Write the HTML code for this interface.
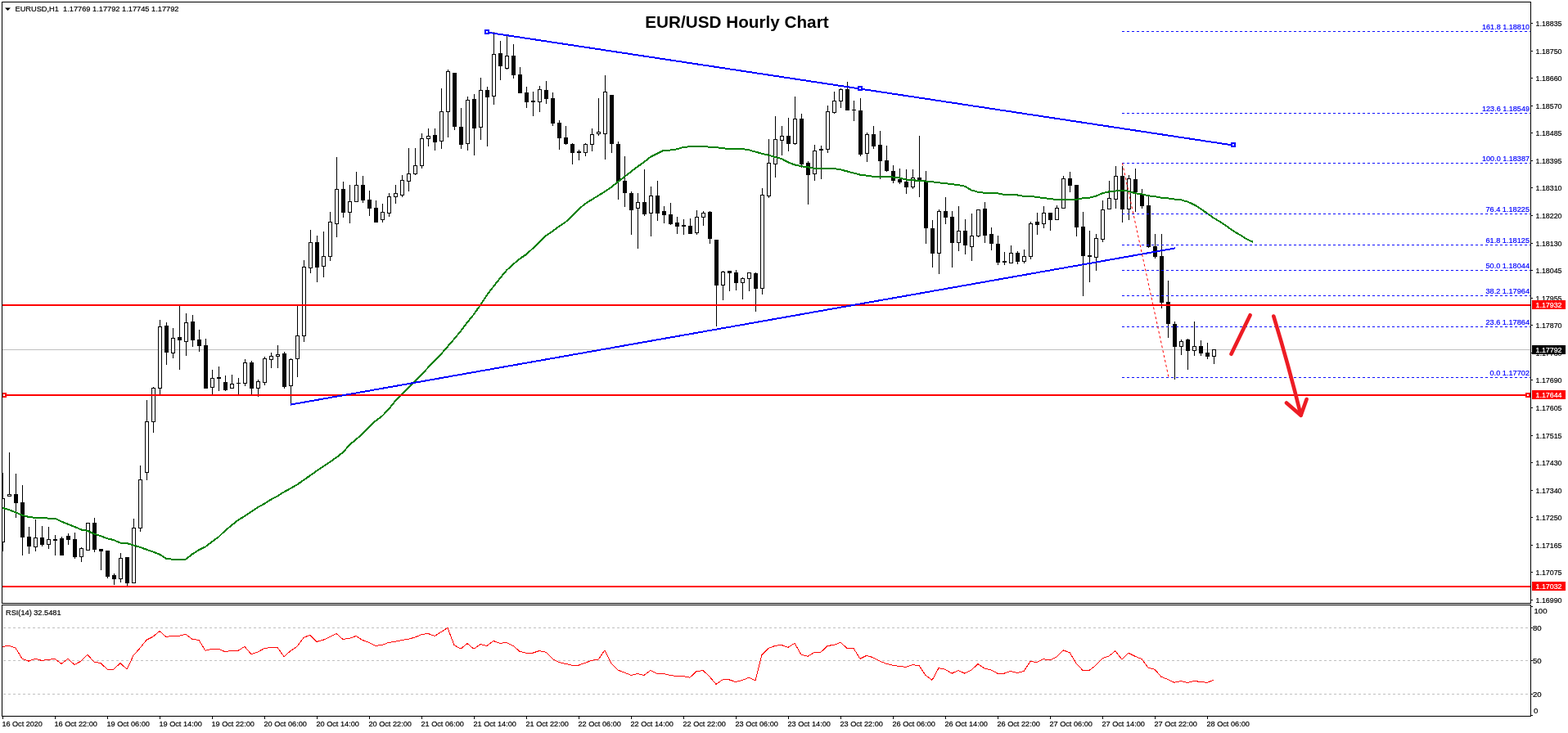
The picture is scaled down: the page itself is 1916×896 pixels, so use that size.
<!DOCTYPE html>
<html><head><meta charset="utf-8"><title>EUR/USD Hourly Chart</title>
<style>html,body{margin:0;padding:0;background:#fff;width:1916px;height:896px;overflow:hidden}</style>
</head><body>
<svg width="1916" height="896" viewBox="0 0 1916 896" style="display:block">
<defs><clipPath id="cm"><rect x="3" y="3" width="1867" height="734"/></clipPath><clipPath id="cr"><rect x="3" y="740" width="1867" height="135"/></clipPath></defs>
<style>text{stroke-width:0.2px}</style>
<rect width="1916" height="896" fill="#fff"/>
<g clip-path="url(#cm)" shape-rendering="crispEdges">
<rect x="3" y="427" width="1867" height="1" fill="#c0c0c0"/>
</g>
<g clip-path="url(#cm)" shape-rendering="crispEdges" fill="#000">
<rect x="3" y="578" width="1" height="96"/>
<rect x="1" y="609" width="5" height="54"/>
<rect x="2" y="610" width="3" height="52" fill="#fff"/>
<rect x="11" y="553" width="1" height="54"/>
<rect x="9" y="604" width="5" height="3"/>
<rect x="10" y="605" width="3" height="1" fill="#fff"/>
<rect x="19" y="579" width="1" height="54"/>
<rect x="17" y="604" width="5" height="11"/>
<rect x="27" y="593" width="1" height="86"/>
<rect x="25" y="614" width="5" height="43"/>
<rect x="35" y="644" width="1" height="33"/>
<rect x="33" y="656" width="5" height="12"/>
<rect x="43" y="635" width="1" height="39"/>
<rect x="41" y="657" width="5" height="12"/>
<rect x="42" y="658" width="3" height="10" fill="#fff"/>
<rect x="51" y="643" width="1" height="25"/>
<rect x="49" y="657" width="5" height="9"/>
<rect x="59" y="644" width="1" height="27"/>
<rect x="57" y="659" width="5" height="7"/>
<rect x="58" y="660" width="3" height="5" fill="#fff"/>
<rect x="67" y="654" width="1" height="25"/>
<rect x="65" y="659" width="5" height="2"/>
<rect x="75" y="656" width="1" height="23"/>
<rect x="73" y="658" width="5" height="21"/>
<rect x="83" y="652" width="1" height="14"/>
<rect x="81" y="655" width="5" height="5"/>
<rect x="91" y="651" width="1" height="32"/>
<rect x="89" y="659" width="5" height="22"/>
<rect x="99" y="669" width="1" height="18"/>
<rect x="97" y="670" width="5" height="11"/>
<rect x="98" y="671" width="3" height="9" fill="#fff"/>
<rect x="107" y="639" width="1" height="34"/>
<rect x="105" y="639" width="5" height="34"/>
<rect x="106" y="640" width="3" height="32" fill="#fff"/>
<rect x="115" y="633" width="1" height="42"/>
<rect x="113" y="639" width="5" height="33"/>
<rect x="123" y="671" width="1" height="26"/>
<rect x="121" y="671" width="5" height="3"/>
<rect x="131" y="673" width="1" height="34"/>
<rect x="129" y="673" width="5" height="32"/>
<rect x="139" y="701" width="1" height="14"/>
<rect x="137" y="703" width="5" height="5"/>
<rect x="147" y="676" width="1" height="36"/>
<rect x="145" y="682" width="5" height="26"/>
<rect x="146" y="683" width="3" height="24" fill="#fff"/>
<rect x="155" y="681" width="1" height="35"/>
<rect x="153" y="681" width="5" height="32"/>
<rect x="163" y="634" width="1" height="79"/>
<rect x="161" y="645" width="5" height="68"/>
<rect x="162" y="646" width="3" height="66" fill="#fff"/>
<rect x="171" y="569" width="1" height="81"/>
<rect x="169" y="586" width="5" height="60"/>
<rect x="170" y="587" width="3" height="58" fill="#fff"/>
<rect x="179" y="489" width="1" height="98"/>
<rect x="177" y="515" width="5" height="63"/>
<rect x="178" y="516" width="3" height="61" fill="#fff"/>
<rect x="187" y="473" width="1" height="56"/>
<rect x="185" y="474" width="5" height="42"/>
<rect x="186" y="475" width="3" height="40" fill="#fff"/>
<rect x="195" y="391" width="1" height="91"/>
<rect x="193" y="399" width="5" height="76"/>
<rect x="194" y="400" width="3" height="74" fill="#fff"/>
<rect x="203" y="394" width="1" height="52"/>
<rect x="201" y="398" width="5" height="33"/>
<rect x="211" y="401" width="1" height="37"/>
<rect x="209" y="413" width="5" height="19"/>
<rect x="210" y="414" width="3" height="17" fill="#fff"/>
<rect x="219" y="374" width="1" height="78"/>
<rect x="217" y="412" width="5" height="4"/>
<rect x="227" y="383" width="1" height="52"/>
<rect x="225" y="394" width="5" height="24"/>
<rect x="226" y="395" width="3" height="22" fill="#fff"/>
<rect x="235" y="385" width="1" height="39"/>
<rect x="233" y="393" width="5" height="23"/>
<rect x="243" y="403" width="1" height="27"/>
<rect x="241" y="415" width="5" height="8"/>
<rect x="251" y="414" width="1" height="61"/>
<rect x="249" y="422" width="5" height="53"/>
<rect x="259" y="452" width="1" height="30"/>
<rect x="257" y="462" width="5" height="12"/>
<rect x="258" y="463" width="3" height="10" fill="#fff"/>
<rect x="267" y="448" width="1" height="30"/>
<rect x="265" y="461" width="5" height="2"/>
<rect x="275" y="459" width="1" height="19"/>
<rect x="273" y="467" width="5" height="10"/>
<rect x="283" y="458" width="1" height="17"/>
<rect x="281" y="469" width="5" height="6"/>
<rect x="282" y="470" width="3" height="4" fill="#fff"/>
<rect x="291" y="462" width="1" height="20"/>
<rect x="289" y="468" width="5" height="1"/>
<rect x="299" y="439" width="1" height="33"/>
<rect x="297" y="443" width="5" height="26"/>
<rect x="298" y="444" width="3" height="24" fill="#fff"/>
<rect x="307" y="441" width="1" height="41"/>
<rect x="305" y="443" width="5" height="32"/>
<rect x="315" y="464" width="1" height="21"/>
<rect x="313" y="466" width="5" height="9"/>
<rect x="314" y="467" width="3" height="7" fill="#fff"/>
<rect x="323" y="436" width="1" height="35"/>
<rect x="321" y="438" width="5" height="30"/>
<rect x="322" y="439" width="3" height="28" fill="#fff"/>
<rect x="331" y="431" width="1" height="19"/>
<rect x="329" y="435" width="5" height="5"/>
<rect x="330" y="436" width="3" height="3" fill="#fff"/>
<rect x="339" y="422" width="1" height="28"/>
<rect x="337" y="433" width="5" height="3"/>
<rect x="338" y="434" width="3" height="1" fill="#fff"/>
<rect x="347" y="430" width="1" height="45"/>
<rect x="345" y="432" width="5" height="41"/>
<rect x="355" y="438" width="1" height="56"/>
<rect x="353" y="439" width="5" height="33"/>
<rect x="354" y="440" width="3" height="31" fill="#fff"/>
<rect x="363" y="373" width="1" height="88"/>
<rect x="361" y="410" width="5" height="29"/>
<rect x="362" y="411" width="3" height="27" fill="#fff"/>
<rect x="371" y="318" width="1" height="100"/>
<rect x="369" y="326" width="5" height="85"/>
<rect x="370" y="327" width="3" height="83" fill="#fff"/>
<rect x="379" y="281" width="1" height="53"/>
<rect x="377" y="296" width="5" height="32"/>
<rect x="378" y="297" width="3" height="30" fill="#fff"/>
<rect x="387" y="288" width="1" height="57"/>
<rect x="385" y="296" width="5" height="31"/>
<rect x="395" y="283" width="1" height="56"/>
<rect x="393" y="313" width="5" height="13"/>
<rect x="394" y="314" width="3" height="11" fill="#fff"/>
<rect x="403" y="259" width="1" height="60"/>
<rect x="401" y="271" width="5" height="43"/>
<rect x="402" y="272" width="3" height="41" fill="#fff"/>
<rect x="411" y="192" width="1" height="98"/>
<rect x="409" y="231" width="5" height="43"/>
<rect x="410" y="232" width="3" height="41" fill="#fff"/>
<rect x="419" y="222" width="1" height="44"/>
<rect x="417" y="231" width="5" height="29"/>
<rect x="427" y="226" width="1" height="47"/>
<rect x="425" y="246" width="5" height="14"/>
<rect x="426" y="247" width="3" height="12" fill="#fff"/>
<rect x="435" y="210" width="1" height="37"/>
<rect x="433" y="226" width="5" height="21"/>
<rect x="434" y="227" width="3" height="19" fill="#fff"/>
<rect x="443" y="215" width="1" height="33"/>
<rect x="441" y="226" width="5" height="19"/>
<rect x="451" y="233" width="1" height="31"/>
<rect x="449" y="244" width="5" height="11"/>
<rect x="459" y="245" width="1" height="27"/>
<rect x="457" y="254" width="5" height="18"/>
<rect x="467" y="249" width="1" height="23"/>
<rect x="465" y="259" width="5" height="10"/>
<rect x="466" y="260" width="3" height="8" fill="#fff"/>
<rect x="475" y="236" width="1" height="29"/>
<rect x="473" y="240" width="5" height="21"/>
<rect x="474" y="241" width="3" height="19" fill="#fff"/>
<rect x="483" y="226" width="1" height="23"/>
<rect x="481" y="236" width="5" height="5"/>
<rect x="482" y="237" width="3" height="3" fill="#fff"/>
<rect x="491" y="214" width="1" height="27"/>
<rect x="489" y="220" width="5" height="19"/>
<rect x="490" y="221" width="3" height="17" fill="#fff"/>
<rect x="499" y="181" width="1" height="53"/>
<rect x="497" y="212" width="5" height="10"/>
<rect x="498" y="213" width="3" height="8" fill="#fff"/>
<rect x="507" y="181" width="1" height="33"/>
<rect x="505" y="202" width="5" height="11"/>
<rect x="506" y="203" width="3" height="9" fill="#fff"/>
<rect x="515" y="163" width="1" height="43"/>
<rect x="513" y="169" width="5" height="34"/>
<rect x="514" y="170" width="3" height="32" fill="#fff"/>
<rect x="523" y="157" width="1" height="22"/>
<rect x="521" y="166" width="5" height="4"/>
<rect x="522" y="167" width="3" height="2" fill="#fff"/>
<rect x="531" y="157" width="1" height="27"/>
<rect x="529" y="165" width="5" height="9"/>
<rect x="539" y="108" width="1" height="74"/>
<rect x="537" y="136" width="5" height="37"/>
<rect x="538" y="137" width="3" height="35" fill="#fff"/>
<rect x="547" y="85" width="1" height="83"/>
<rect x="545" y="87" width="5" height="50"/>
<rect x="546" y="88" width="3" height="48" fill="#fff"/>
<rect x="555" y="89" width="1" height="70"/>
<rect x="553" y="89" width="5" height="66"/>
<rect x="563" y="132" width="1" height="50"/>
<rect x="561" y="155" width="5" height="22"/>
<rect x="571" y="118" width="1" height="66"/>
<rect x="569" y="122" width="5" height="54"/>
<rect x="570" y="123" width="3" height="52" fill="#fff"/>
<rect x="579" y="115" width="1" height="75"/>
<rect x="577" y="121" width="5" height="36"/>
<rect x="587" y="95" width="1" height="76"/>
<rect x="585" y="110" width="5" height="46"/>
<rect x="586" y="111" width="3" height="44" fill="#fff"/>
<rect x="595" y="106" width="1" height="73"/>
<rect x="593" y="110" width="5" height="9"/>
<rect x="603" y="39" width="1" height="89"/>
<rect x="601" y="66" width="5" height="52"/>
<rect x="602" y="67" width="3" height="50" fill="#fff"/>
<rect x="611" y="50" width="1" height="48"/>
<rect x="609" y="65" width="5" height="16"/>
<rect x="619" y="44" width="1" height="41"/>
<rect x="617" y="68" width="5" height="16"/>
<rect x="618" y="69" width="3" height="14" fill="#fff"/>
<rect x="627" y="54" width="1" height="42"/>
<rect x="625" y="68" width="5" height="24"/>
<rect x="635" y="82" width="1" height="32"/>
<rect x="633" y="91" width="5" height="23"/>
<rect x="643" y="106" width="1" height="26"/>
<rect x="641" y="113" width="5" height="12"/>
<rect x="651" y="112" width="1" height="30"/>
<rect x="649" y="123" width="5" height="2"/>
<rect x="659" y="105" width="1" height="32"/>
<rect x="657" y="109" width="5" height="16"/>
<rect x="658" y="110" width="3" height="14" fill="#fff"/>
<rect x="667" y="99" width="1" height="28"/>
<rect x="665" y="110" width="5" height="11"/>
<rect x="675" y="113" width="1" height="41"/>
<rect x="673" y="120" width="5" height="31"/>
<rect x="683" y="147" width="1" height="36"/>
<rect x="681" y="150" width="5" height="19"/>
<rect x="691" y="154" width="1" height="23"/>
<rect x="689" y="168" width="5" height="8"/>
<rect x="699" y="175" width="1" height="26"/>
<rect x="697" y="176" width="5" height="11"/>
<rect x="707" y="183" width="1" height="13"/>
<rect x="705" y="185" width="5" height="2"/>
<rect x="715" y="175" width="1" height="16"/>
<rect x="713" y="176" width="5" height="11"/>
<rect x="714" y="177" width="3" height="9" fill="#fff"/>
<rect x="723" y="157" width="1" height="28"/>
<rect x="721" y="164" width="5" height="13"/>
<rect x="722" y="165" width="3" height="11" fill="#fff"/>
<rect x="731" y="120" width="1" height="46"/>
<rect x="729" y="161" width="5" height="3"/>
<rect x="730" y="162" width="3" height="1" fill="#fff"/>
<rect x="739" y="92" width="1" height="103"/>
<rect x="737" y="112" width="5" height="52"/>
<rect x="738" y="113" width="3" height="50" fill="#fff"/>
<rect x="747" y="116" width="1" height="71"/>
<rect x="745" y="116" width="5" height="60"/>
<rect x="755" y="173" width="1" height="71"/>
<rect x="753" y="176" width="5" height="46"/>
<rect x="763" y="191" width="1" height="62"/>
<rect x="761" y="221" width="5" height="15"/>
<rect x="771" y="234" width="1" height="53"/>
<rect x="769" y="236" width="5" height="21"/>
<rect x="779" y="236" width="1" height="68"/>
<rect x="777" y="247" width="5" height="8"/>
<rect x="778" y="248" width="3" height="6" fill="#fff"/>
<rect x="787" y="207" width="1" height="57"/>
<rect x="785" y="247" width="5" height="15"/>
<rect x="795" y="228" width="1" height="61"/>
<rect x="793" y="239" width="5" height="22"/>
<rect x="794" y="240" width="3" height="20" fill="#fff"/>
<rect x="803" y="221" width="1" height="49"/>
<rect x="801" y="239" width="5" height="22"/>
<rect x="811" y="252" width="1" height="21"/>
<rect x="809" y="258" width="5" height="5"/>
<rect x="819" y="248" width="1" height="27"/>
<rect x="817" y="262" width="5" height="12"/>
<rect x="827" y="265" width="1" height="21"/>
<rect x="825" y="272" width="5" height="5"/>
<rect x="835" y="268" width="1" height="19"/>
<rect x="833" y="275" width="5" height="2"/>
<rect x="843" y="267" width="1" height="19"/>
<rect x="841" y="276" width="5" height="10"/>
<rect x="851" y="257" width="1" height="30"/>
<rect x="849" y="265" width="5" height="20"/>
<rect x="850" y="266" width="3" height="18" fill="#fff"/>
<rect x="859" y="258" width="1" height="18"/>
<rect x="857" y="260" width="5" height="6"/>
<rect x="858" y="261" width="3" height="4" fill="#fff"/>
<rect x="867" y="258" width="1" height="40"/>
<rect x="865" y="259" width="5" height="33"/>
<rect x="875" y="293" width="1" height="106"/>
<rect x="873" y="293" width="5" height="56"/>
<rect x="883" y="331" width="1" height="36"/>
<rect x="881" y="332" width="5" height="17"/>
<rect x="882" y="333" width="3" height="15" fill="#fff"/>
<rect x="891" y="331" width="1" height="25"/>
<rect x="889" y="331" width="5" height="3"/>
<rect x="899" y="330" width="1" height="25"/>
<rect x="897" y="333" width="5" height="13"/>
<rect x="907" y="339" width="1" height="27"/>
<rect x="905" y="340" width="5" height="6"/>
<rect x="906" y="341" width="3" height="4" fill="#fff"/>
<rect x="915" y="333" width="1" height="23"/>
<rect x="913" y="333" width="5" height="8"/>
<rect x="914" y="334" width="3" height="6" fill="#fff"/>
<rect x="923" y="333" width="1" height="48"/>
<rect x="921" y="334" width="5" height="19"/>
<rect x="931" y="230" width="1" height="130"/>
<rect x="929" y="238" width="5" height="115"/>
<rect x="930" y="239" width="3" height="113" fill="#fff"/>
<rect x="939" y="170" width="1" height="72"/>
<rect x="937" y="199" width="5" height="41"/>
<rect x="938" y="200" width="3" height="39" fill="#fff"/>
<rect x="947" y="142" width="1" height="75"/>
<rect x="945" y="170" width="5" height="31"/>
<rect x="946" y="171" width="3" height="29" fill="#fff"/>
<rect x="955" y="154" width="1" height="36"/>
<rect x="953" y="166" width="5" height="6"/>
<rect x="954" y="167" width="3" height="4" fill="#fff"/>
<rect x="963" y="144" width="1" height="41"/>
<rect x="961" y="166" width="5" height="10"/>
<rect x="971" y="118" width="1" height="59"/>
<rect x="969" y="145" width="5" height="31"/>
<rect x="970" y="146" width="3" height="29" fill="#fff"/>
<rect x="979" y="139" width="1" height="66"/>
<rect x="977" y="145" width="5" height="56"/>
<rect x="987" y="197" width="1" height="53"/>
<rect x="985" y="199" width="5" height="15"/>
<rect x="995" y="177" width="1" height="44"/>
<rect x="993" y="184" width="5" height="29"/>
<rect x="994" y="185" width="3" height="27" fill="#fff"/>
<rect x="1003" y="178" width="1" height="41"/>
<rect x="1001" y="182" width="5" height="2"/>
<rect x="1011" y="129" width="1" height="58"/>
<rect x="1009" y="136" width="5" height="47"/>
<rect x="1010" y="137" width="3" height="45" fill="#fff"/>
<rect x="1019" y="112" width="1" height="27"/>
<rect x="1017" y="123" width="5" height="15"/>
<rect x="1018" y="124" width="3" height="13" fill="#fff"/>
<rect x="1027" y="108" width="1" height="24"/>
<rect x="1025" y="109" width="5" height="15"/>
<rect x="1026" y="110" width="3" height="13" fill="#fff"/>
<rect x="1035" y="100" width="1" height="35"/>
<rect x="1033" y="109" width="5" height="26"/>
<rect x="1043" y="123" width="1" height="25"/>
<rect x="1041" y="134" width="5" height="1"/>
<rect x="1051" y="120" width="1" height="71"/>
<rect x="1049" y="135" width="5" height="54"/>
<rect x="1059" y="162" width="1" height="36"/>
<rect x="1057" y="164" width="5" height="24"/>
<rect x="1058" y="165" width="3" height="22" fill="#fff"/>
<rect x="1067" y="154" width="1" height="28"/>
<rect x="1065" y="164" width="5" height="15"/>
<rect x="1075" y="160" width="1" height="59"/>
<rect x="1073" y="177" width="5" height="20"/>
<rect x="1083" y="178" width="1" height="32"/>
<rect x="1081" y="196" width="5" height="13"/>
<rect x="1091" y="202" width="1" height="22"/>
<rect x="1089" y="209" width="5" height="12"/>
<rect x="1099" y="206" width="1" height="19"/>
<rect x="1097" y="219" width="5" height="4"/>
<rect x="1107" y="207" width="1" height="30"/>
<rect x="1105" y="222" width="5" height="7"/>
<rect x="1115" y="207" width="1" height="24"/>
<rect x="1113" y="217" width="5" height="12"/>
<rect x="1114" y="218" width="3" height="10" fill="#fff"/>
<rect x="1123" y="166" width="1" height="75"/>
<rect x="1121" y="217" width="5" height="3"/>
<rect x="1131" y="209" width="1" height="89"/>
<rect x="1129" y="222" width="5" height="57"/>
<rect x="1139" y="269" width="1" height="58"/>
<rect x="1137" y="279" width="5" height="31"/>
<rect x="1147" y="256" width="1" height="79"/>
<rect x="1145" y="258" width="5" height="52"/>
<rect x="1146" y="259" width="3" height="50" fill="#fff"/>
<rect x="1155" y="241" width="1" height="33"/>
<rect x="1153" y="258" width="5" height="8"/>
<rect x="1163" y="258" width="1" height="69"/>
<rect x="1161" y="265" width="5" height="32"/>
<rect x="1171" y="252" width="1" height="55"/>
<rect x="1169" y="282" width="5" height="15"/>
<rect x="1170" y="283" width="3" height="13" fill="#fff"/>
<rect x="1179" y="268" width="1" height="43"/>
<rect x="1177" y="282" width="5" height="18"/>
<rect x="1187" y="261" width="1" height="58"/>
<rect x="1185" y="288" width="5" height="14"/>
<rect x="1186" y="289" width="3" height="12" fill="#fff"/>
<rect x="1195" y="256" width="1" height="34"/>
<rect x="1193" y="256" width="5" height="33"/>
<rect x="1194" y="257" width="3" height="31" fill="#fff"/>
<rect x="1203" y="247" width="1" height="50"/>
<rect x="1201" y="255" width="5" height="33"/>
<rect x="1211" y="278" width="1" height="28"/>
<rect x="1209" y="286" width="5" height="12"/>
<rect x="1219" y="288" width="1" height="36"/>
<rect x="1217" y="298" width="5" height="23"/>
<rect x="1227" y="308" width="1" height="16"/>
<rect x="1225" y="319" width="5" height="2"/>
<rect x="1235" y="300" width="1" height="22"/>
<rect x="1233" y="309" width="5" height="13"/>
<rect x="1234" y="310" width="3" height="11" fill="#fff"/>
<rect x="1243" y="307" width="1" height="16"/>
<rect x="1241" y="309" width="5" height="11"/>
<rect x="1251" y="305" width="1" height="17"/>
<rect x="1249" y="313" width="5" height="7"/>
<rect x="1250" y="314" width="3" height="5" fill="#fff"/>
<rect x="1259" y="271" width="1" height="46"/>
<rect x="1257" y="273" width="5" height="41"/>
<rect x="1258" y="274" width="3" height="39" fill="#fff"/>
<rect x="1267" y="260" width="1" height="27"/>
<rect x="1265" y="271" width="5" height="4"/>
<rect x="1275" y="252" width="1" height="27"/>
<rect x="1273" y="260" width="5" height="14"/>
<rect x="1274" y="261" width="3" height="12" fill="#fff"/>
<rect x="1283" y="260" width="1" height="22"/>
<rect x="1281" y="260" width="5" height="9"/>
<rect x="1291" y="251" width="1" height="18"/>
<rect x="1289" y="254" width="5" height="15"/>
<rect x="1290" y="255" width="3" height="13" fill="#fff"/>
<rect x="1299" y="215" width="1" height="40"/>
<rect x="1297" y="218" width="5" height="37"/>
<rect x="1298" y="219" width="3" height="35" fill="#fff"/>
<rect x="1307" y="210" width="1" height="25"/>
<rect x="1305" y="218" width="5" height="9"/>
<rect x="1315" y="226" width="1" height="63"/>
<rect x="1313" y="226" width="5" height="52"/>
<rect x="1323" y="259" width="1" height="103"/>
<rect x="1321" y="277" width="5" height="36"/>
<rect x="1331" y="282" width="1" height="63"/>
<rect x="1329" y="312" width="5" height="2"/>
<rect x="1339" y="286" width="1" height="45"/>
<rect x="1337" y="291" width="5" height="24"/>
<rect x="1338" y="292" width="3" height="22" fill="#fff"/>
<rect x="1347" y="245" width="1" height="51"/>
<rect x="1345" y="256" width="5" height="37"/>
<rect x="1346" y="257" width="3" height="35" fill="#fff"/>
<rect x="1355" y="221" width="1" height="35"/>
<rect x="1353" y="242" width="5" height="14"/>
<rect x="1354" y="243" width="3" height="12" fill="#fff"/>
<rect x="1363" y="203" width="1" height="52"/>
<rect x="1361" y="215" width="5" height="29"/>
<rect x="1362" y="216" width="3" height="27" fill="#fff"/>
<rect x="1371" y="203" width="1" height="69"/>
<rect x="1369" y="215" width="5" height="41"/>
<rect x="1379" y="214" width="1" height="55"/>
<rect x="1377" y="218" width="5" height="38"/>
<rect x="1378" y="219" width="3" height="36" fill="#fff"/>
<rect x="1387" y="206" width="1" height="53"/>
<rect x="1385" y="219" width="5" height="16"/>
<rect x="1395" y="231" width="1" height="24"/>
<rect x="1393" y="238" width="5" height="14"/>
<rect x="1403" y="240" width="1" height="63"/>
<rect x="1401" y="251" width="5" height="51"/>
<rect x="1411" y="286" width="1" height="30"/>
<rect x="1409" y="301" width="5" height="13"/>
<rect x="1419" y="286" width="1" height="91"/>
<rect x="1417" y="313" width="5" height="57"/>
<rect x="1427" y="343" width="1" height="70"/>
<rect x="1425" y="369" width="5" height="27"/>
<rect x="1435" y="393" width="1" height="71"/>
<rect x="1433" y="396" width="5" height="28"/>
<rect x="1443" y="415" width="1" height="19"/>
<rect x="1441" y="417" width="5" height="7"/>
<rect x="1442" y="418" width="3" height="5" fill="#fff"/>
<rect x="1451" y="414" width="1" height="38"/>
<rect x="1449" y="415" width="5" height="14"/>
<rect x="1459" y="393" width="1" height="42"/>
<rect x="1457" y="423" width="5" height="6"/>
<rect x="1458" y="424" width="3" height="4" fill="#fff"/>
<rect x="1467" y="416" width="1" height="19"/>
<rect x="1465" y="423" width="5" height="9"/>
<rect x="1475" y="419" width="1" height="20"/>
<rect x="1473" y="431" width="5" height="5"/>
<rect x="1483" y="427" width="1" height="18"/>
<rect x="1481" y="427" width="5" height="9"/>
<rect x="1482" y="428" width="3" height="7" fill="#fff"/>
</g>
<g clip-path="url(#cm)">
<polyline points="3,620.7 11,623.2 19,626.3 27,629.8 35,631.9 43,632.8 51,632.8 59,633.6 67,633.6 75,637.6 83,640.7 91,643.8 99,647.4 107,648.9 115,652.6 123,655.1 131,658.2 139,660.1 147,663.6 155,664.1 163,666.4 171,668.9 179,671.7 187,674.5 195,677.7 203,682.7 211,683.7 219,683.7 227,683.6 235,677.3 243,672.3 251,668.4 259,662.2 267,656.5 275,648.7 283,642.1 291,635.7 299,630.9 307,625.5 315,620.2 323,615.7 331,610.7 339,606.4 347,601.4 355,597.0 363,592.5 371,586.8 379,581.3 387,575.5 395,570.3 403,564.8 411,559.2 419,553.1 427,543.9 435,537.1 443,530.4 451,522.4 459,514.4 467,508.5 475,500.3 483,490.0 491,482.2 499,473.9 507,465.9 515,458.0 523,449.4 531,441.4 539,432.8 547,423.6 555,414.4 563,404.6 571,394.1 579,384.3 587,372.7 595,360.7 603,350.2 611,340.0 619,330.4 627,323.1 635,316.4 643,311.0 651,303.7 659,295.6 667,288.3 675,282.9 683,276.7 691,271.5 699,264.2 707,255.9 715,249.0 723,244.1 731,239.2 739,234.3 747,228.9 755,222.2 763,216.2 771,209.9 779,203.8 787,198.1 795,191.8 803,187.7 811,183.8 819,183.5 827,182.4 835,179.8 843,179.3 851,178.6 859,178.8 867,179.8 875,180.0 883,181.4 891,181.7 899,181.7 907,182.1 915,183.2 923,185.6 931,187.7 939,189.6 947,191.9 955,194.1 963,198.3 971,201.4 979,203.2 987,204.2 995,205.9 1003,205.6 1011,205.6 1019,206.1 1027,207.3 1035,209.4 1043,211.5 1051,213.6 1059,214.7 1067,215.7 1075,216.0 1083,216.0 1091,216.5 1099,217.4 1107,219.5 1115,220.2 1123,220.9 1131,221.5 1139,222.2 1147,223.2 1155,224.2 1163,225.1 1171,226.1 1179,227.7 1187,232.4 1195,234.7 1203,235.7 1211,236.0 1219,236.3 1227,237.8 1235,237.8 1243,238.4 1251,239.9 1259,239.9 1267,240.9 1275,242.0 1283,243.0 1291,244.0 1299,244.0 1307,244.0 1315,244.0 1323,242.2 1331,241.8 1339,239.7 1347,236.3 1355,234.4 1363,233.5 1371,232.6 1379,233.8 1387,236.3 1395,237.2 1403,239.3 1411,240.1 1419,241.8 1427,242.4 1435,243.5 1443,244.3 1451,246.6 1459,250.1 1467,255.0 1475,260.8 1483,266.4 1491,271.2 1499,276.6 1507,282.3 1515,287.0 1523,292.0 1531,295.8" fill="none" stroke="#068006" stroke-width="2" stroke-linejoin="round" shape-rendering="crispEdges"/>
</g>
<g clip-path="url(#cm)" shape-rendering="crispEdges">
<line x1="1371" y1="38.5" x2="1870" y2="38.5" stroke="#0000ff" stroke-width="1" stroke-dasharray="3 3"/>
<line x1="1371" y1="138.5" x2="1870" y2="138.5" stroke="#0000ff" stroke-width="1" stroke-dasharray="3 3"/>
<line x1="1371" y1="199.5" x2="1870" y2="199.5" stroke="#0000ff" stroke-width="1" stroke-dasharray="3 3"/>
<line x1="1371" y1="261.5" x2="1870" y2="261.5" stroke="#0000ff" stroke-width="1" stroke-dasharray="3 3"/>
<line x1="1371" y1="299.5" x2="1870" y2="299.5" stroke="#0000ff" stroke-width="1" stroke-dasharray="3 3"/>
<line x1="1371" y1="330.5" x2="1870" y2="330.5" stroke="#0000ff" stroke-width="1" stroke-dasharray="3 3"/>
<line x1="1371" y1="361.5" x2="1870" y2="361.5" stroke="#0000ff" stroke-width="1" stroke-dasharray="3 3"/>
<line x1="1371" y1="399.5" x2="1870" y2="399.5" stroke="#0000ff" stroke-width="1" stroke-dasharray="3 3"/>
<line x1="1371" y1="461.5" x2="1870" y2="461.5" stroke="#0000ff" stroke-width="1" stroke-dasharray="3 3"/>
<rect x="3" y="372" width="1867" height="2" fill="#ff0000"/>
<rect x="3" y="482" width="1867" height="2" fill="#ff0000"/>
<rect x="3" y="716" width="1867" height="2" fill="#ff0000"/>
</g>
<g clip-path="url(#cm)">
<line x1="595" y1="39.5" x2="1507" y2="177.6" stroke="#0000ff" stroke-width="2" shape-rendering="crispEdges"/>
<line x1="355" y1="494.6" x2="1436" y2="303.4" stroke="#0000ff" stroke-width="2" shape-rendering="crispEdges"/>
<rect x="592" y="36" width="6" height="6" fill="#0000ff" shape-rendering="crispEdges"/>
<rect x="594" y="38" width="2" height="2" fill="#fff" shape-rendering="crispEdges"/>
<rect x="1048" y="105" width="6" height="6" fill="#0000ff" shape-rendering="crispEdges"/>
<rect x="1050" y="107" width="2" height="2" fill="#fff" shape-rendering="crispEdges"/>
<rect x="1504" y="174" width="6" height="6" fill="#0000ff" shape-rendering="crispEdges"/>
<rect x="1506" y="176" width="2" height="2" fill="#fff" shape-rendering="crispEdges"/>
<rect x="2" y="480" width="6" height="6" fill="#ff0000" shape-rendering="crispEdges"/>
<rect x="4" y="482" width="2" height="2" fill="#fff" shape-rendering="crispEdges"/>
<rect x="1864" y="480" width="6" height="6" fill="#ff0000" shape-rendering="crispEdges"/>
<rect x="1866" y="482" width="2" height="2" fill="#fff" shape-rendering="crispEdges"/>
<line x1="1371.5" y1="199.5" x2="1428" y2="461" stroke="#ff0000" stroke-width="1" stroke-dasharray="3 3"/>
<g stroke="#ed1c24" stroke-width="4.6" stroke-linecap="round" stroke-linejoin="round" fill="none">
<line x1="1504.5" y1="432.8" x2="1527.6" y2="385.2"/>
<path d="M1556.3,386.5 Q1574.5,446 1589.6,507.5"/>
<path d="M1572,492.5 L1589.6,507.8 L1596.6,488"/>
</g>
</g>
<g font-family='"Liberation Sans", Arial, sans-serif' font-size="9.6" fill="#0000ff" stroke="#0000ff" text-anchor="end">
<text x="1869" y="36" textLength="58" lengthAdjust="spacingAndGlyphs">161.8 1.18810</text>
<text x="1869" y="136" textLength="58" lengthAdjust="spacingAndGlyphs">123.6 1.18549</text>
<text x="1869" y="197" textLength="58" lengthAdjust="spacingAndGlyphs">100.0 1.18387</text>
<text x="1869" y="259" textLength="53.5" lengthAdjust="spacingAndGlyphs">76.4 1.18225</text>
<text x="1869" y="297" textLength="53.5" lengthAdjust="spacingAndGlyphs">61.8 1.18125</text>
<text x="1869" y="328" textLength="53.5" lengthAdjust="spacingAndGlyphs">50.0 1.18044</text>
<text x="1869" y="359" textLength="53.5" lengthAdjust="spacingAndGlyphs">38.2 1.17964</text>
<text x="1869" y="397" textLength="53.5" lengthAdjust="spacingAndGlyphs">23.6 1.17864</text>
<text x="1869" y="459" textLength="48.5" lengthAdjust="spacingAndGlyphs">0.0 1.17702</text>
</g>
<g clip-path="url(#cr)" shape-rendering="crispEdges">
<line x1="4" y1="767.5" x2="1870" y2="767.5" stroke="#c0c0c0" stroke-width="1" stroke-dasharray="3 3"/>
<line x1="4" y1="807.5" x2="1870" y2="807.5" stroke="#c0c0c0" stroke-width="1" stroke-dasharray="3 3"/>
<line x1="4" y1="848.5" x2="1870" y2="848.5" stroke="#c0c0c0" stroke-width="1" stroke-dasharray="3 3"/>
</g>
<g clip-path="url(#cr)">
<polyline points="3,790.3 11,789.4 19,792.0 27,805.1 35,808.2 43,805.3 51,807.4 59,806.4 67,805.3 75,811.4 83,805.3 91,812.4 99,808.2 107,800.3 115,809.2 123,810.4 131,818.2 139,818.2 147,810.4 155,818.2 163,801.3 171,792.3 179,782.3 187,778.2 195,771.5 203,778.5 211,777.3 219,777.3 227,775.3 235,781.3 243,782.5 251,795.3 259,793.3 267,793.3 275,796.6 283,795.3 291,795.3 299,790.3 307,799.8 315,797.0 323,792.6 331,791.3 339,791.3 347,802.6 355,795.7 363,790.3 371,779.4 379,776.3 387,784.4 395,782.3 403,778.5 411,774.4 419,781.5 427,780.3 435,777.5 443,782.5 451,785.3 459,789.4 467,788.4 475,785.4 483,784.2 491,782.5 499,781.3 507,779.0 515,775.7 523,774.4 531,777.5 539,772.5 547,767.5 555,788.6 563,793.2 571,786.6 579,793.2 587,787.6 595,789.4 603,783.5 611,786.3 619,785.4 627,789.4 635,796.3 643,798.2 651,798.2 659,795.5 667,797.3 675,805.3 683,809.5 691,811.4 699,813.2 707,813.2 715,810.3 723,807.3 731,806.3 739,794.8 747,811.3 755,819.1 763,822.0 771,825.4 779,823.6 787,825.4 795,819.5 803,823.6 811,823.6 819,825.4 827,826.6 835,826.6 843,828.2 851,820.7 859,819.5 867,827.0 875,836.4 883,830.8 891,830.8 899,833.6 907,831.6 915,828.2 923,832.0 931,800.4 939,792.5 947,789.4 955,788.5 963,791.3 971,786.3 979,800.1 987,802.3 995,797.6 1003,797.3 1011,789.4 1019,788.5 1027,785.3 1035,792.3 1043,792.5 1051,805.3 1059,801.3 1067,803.8 1075,808.2 1083,811.3 1091,813.2 1099,814.5 1107,815.3 1115,812.6 1123,813.6 1131,825.4 1139,831.4 1147,816.6 1155,818.2 1163,823.2 1171,819.5 1179,823.2 1187,819.1 1195,811.6 1203,817.0 1211,819.1 1219,823.2 1227,823.2 1235,820.4 1243,822.4 1251,820.4 1259,808.6 1267,809.5 1275,805.7 1283,807.0 1291,803.2 1299,794.8 1307,797.6 1315,810.7 1323,819.5 1331,819.5 1339,813.2 1347,804.8 1355,801.9 1363,795.7 1371,806.3 1379,798.3 1387,802.3 1395,805.4 1403,816.2 1411,818.2 1419,827.3 1427,830.4 1435,834.3 1443,832.5 1451,834.5 1459,832.5 1467,833.4 1475,834.3 1483,831.3" fill="none" stroke="#ff0000" stroke-width="1" stroke-linejoin="round" shape-rendering="crispEdges"/>
</g>
<g shape-rendering="crispEdges" fill="none" stroke="#000" stroke-width="1">
<rect x="2.5" y="2.5" width="1868" height="735"/>
<rect x="2.5" y="739.5" width="1868" height="136"/>
</g>
<g shape-rendering="crispEdges" fill="#000">
<rect x="1871" y="28" width="2" height="1"/>
<rect x="1871" y="62" width="2" height="1"/>
<rect x="1871" y="95" width="2" height="1"/>
<rect x="1871" y="129" width="2" height="1"/>
<rect x="1871" y="162" width="2" height="1"/>
<rect x="1871" y="196" width="2" height="1"/>
<rect x="1871" y="229" width="2" height="1"/>
<rect x="1871" y="263" width="2" height="1"/>
<rect x="1871" y="297" width="2" height="1"/>
<rect x="1871" y="330" width="2" height="1"/>
<rect x="1871" y="364" width="2" height="1"/>
<rect x="1871" y="397" width="2" height="1"/>
<rect x="1871" y="431" width="2" height="1"/>
<rect x="1871" y="464" width="2" height="1"/>
<rect x="1871" y="498" width="2" height="1"/>
<rect x="1871" y="532" width="2" height="1"/>
<rect x="1871" y="565" width="2" height="1"/>
<rect x="1871" y="599" width="2" height="1"/>
<rect x="1871" y="632" width="2" height="1"/>
<rect x="1871" y="666" width="2" height="1"/>
<rect x="1871" y="699" width="2" height="1"/>
<rect x="1871" y="733" width="2" height="1"/>
</g>
<g font-family='"Liberation Sans", Arial, sans-serif' font-size="9.6" fill="#000" stroke="#000">
<text x="1876.5" y="32" textLength="32" lengthAdjust="spacingAndGlyphs">1.18835</text>
<text x="1876.5" y="66" textLength="32" lengthAdjust="spacingAndGlyphs">1.18750</text>
<text x="1876.5" y="99" textLength="32" lengthAdjust="spacingAndGlyphs">1.18660</text>
<text x="1876.5" y="133" textLength="32" lengthAdjust="spacingAndGlyphs">1.18570</text>
<text x="1876.5" y="166" textLength="32" lengthAdjust="spacingAndGlyphs">1.18485</text>
<text x="1876.5" y="200" textLength="32" lengthAdjust="spacingAndGlyphs">1.18395</text>
<text x="1876.5" y="233" textLength="32" lengthAdjust="spacingAndGlyphs">1.18310</text>
<text x="1876.5" y="267" textLength="32" lengthAdjust="spacingAndGlyphs">1.18220</text>
<text x="1876.5" y="301" textLength="32" lengthAdjust="spacingAndGlyphs">1.18130</text>
<text x="1876.5" y="334" textLength="32" lengthAdjust="spacingAndGlyphs">1.18045</text>
<text x="1876.5" y="368" textLength="32" lengthAdjust="spacingAndGlyphs">1.17955</text>
<text x="1876.5" y="401" textLength="32" lengthAdjust="spacingAndGlyphs">1.17870</text>
<text x="1876.5" y="435" textLength="32" lengthAdjust="spacingAndGlyphs">1.17780</text>
<text x="1876.5" y="468" textLength="32" lengthAdjust="spacingAndGlyphs">1.17690</text>
<text x="1876.5" y="502" textLength="32" lengthAdjust="spacingAndGlyphs">1.17605</text>
<text x="1876.5" y="536" textLength="32" lengthAdjust="spacingAndGlyphs">1.17515</text>
<text x="1876.5" y="569" textLength="32" lengthAdjust="spacingAndGlyphs">1.17430</text>
<text x="1876.5" y="603" textLength="32" lengthAdjust="spacingAndGlyphs">1.17340</text>
<text x="1876.5" y="636" textLength="32" lengthAdjust="spacingAndGlyphs">1.17250</text>
<text x="1876.5" y="670" textLength="32" lengthAdjust="spacingAndGlyphs">1.17165</text>
<text x="1876.5" y="703" textLength="32" lengthAdjust="spacingAndGlyphs">1.17075</text>
<text x="1876.5" y="737" textLength="32" lengthAdjust="spacingAndGlyphs">1.16990</text>
</g>
<rect x="1872" y="367" width="41" height="11" fill="#ff0000" shape-rendering="crispEdges"/>
<text x="1876.5" y="376" font-family='"Liberation Sans", Arial, sans-serif' font-size="9.6" fill="#fff" stroke="#fff" textLength="32" lengthAdjust="spacingAndGlyphs">1.17932</text>
<rect x="1872" y="477" width="41" height="11" fill="#ff0000" shape-rendering="crispEdges"/>
<text x="1876.5" y="486" font-family='"Liberation Sans", Arial, sans-serif' font-size="9.6" fill="#fff" stroke="#fff" textLength="32" lengthAdjust="spacingAndGlyphs">1.17644</text>
<rect x="1872" y="711" width="41" height="11" fill="#ff0000" shape-rendering="crispEdges"/>
<text x="1876.5" y="720" font-family='"Liberation Sans", Arial, sans-serif' font-size="9.6" fill="#fff" stroke="#fff" textLength="32" lengthAdjust="spacingAndGlyphs">1.17032</text>
<rect x="1872" y="422" width="41" height="11" fill="#000000" shape-rendering="crispEdges"/>
<text x="1876.5" y="431" font-family='"Liberation Sans", Arial, sans-serif' font-size="9.6" fill="#fff" stroke="#fff" textLength="32" lengthAdjust="spacingAndGlyphs">1.17792</text>
<g shape-rendering="crispEdges" fill="#000">
<rect x="1871" y="741" width="2" height="1"/>
<rect x="1871" y="767" width="2" height="1"/>
<rect x="1871" y="807" width="2" height="1"/>
<rect x="1871" y="848" width="2" height="1"/>
<rect x="1871" y="874" width="2" height="1"/>
</g>
<g font-family='"Liberation Sans", Arial, sans-serif' font-size="9.6" fill="#000" stroke="#000">
<text x="1874.5" y="750">100</text>
<text x="1873" y="771">80</text>
<text x="1873" y="811">50</text>
<text x="1873" y="851.5">20</text>
<text x="1874" y="872">0</text>
</g>
<g shape-rendering="crispEdges" fill="#000">
<rect x="3" y="876" width="1" height="3"/>
<rect x="67" y="876" width="1" height="3"/>
<rect x="131" y="876" width="1" height="3"/>
<rect x="195" y="876" width="1" height="3"/>
<rect x="259" y="876" width="1" height="3"/>
<rect x="323" y="876" width="1" height="3"/>
<rect x="387" y="876" width="1" height="3"/>
<rect x="451" y="876" width="1" height="3"/>
<rect x="515" y="876" width="1" height="3"/>
<rect x="579" y="876" width="1" height="3"/>
<rect x="643" y="876" width="1" height="3"/>
<rect x="707" y="876" width="1" height="3"/>
<rect x="771" y="876" width="1" height="3"/>
<rect x="835" y="876" width="1" height="3"/>
<rect x="899" y="876" width="1" height="3"/>
<rect x="963" y="876" width="1" height="3"/>
<rect x="1027" y="876" width="1" height="3"/>
<rect x="1091" y="876" width="1" height="3"/>
<rect x="1155" y="876" width="1" height="3"/>
<rect x="1219" y="876" width="1" height="3"/>
<rect x="1283" y="876" width="1" height="3"/>
<rect x="1347" y="876" width="1" height="3"/>
<rect x="1411" y="876" width="1" height="3"/>
<rect x="1475" y="876" width="1" height="3"/>
</g>
<g font-family='"Liberation Sans", Arial, sans-serif' font-size="9.6" fill="#000" stroke="#000">
<text x="2.4" y="888" textLength="49.5" lengthAdjust="spacingAndGlyphs">16 Oct 2020</text>
<text x="66.4" y="888" textLength="52.5" lengthAdjust="spacingAndGlyphs">16 Oct 22:00</text>
<text x="130.4" y="888" textLength="52.5" lengthAdjust="spacingAndGlyphs">19 Oct 06:00</text>
<text x="194.4" y="888" textLength="52.5" lengthAdjust="spacingAndGlyphs">19 Oct 14:00</text>
<text x="258.4" y="888" textLength="52.5" lengthAdjust="spacingAndGlyphs">19 Oct 22:00</text>
<text x="322.4" y="888" textLength="52.5" lengthAdjust="spacingAndGlyphs">20 Oct 06:00</text>
<text x="386.4" y="888" textLength="52.5" lengthAdjust="spacingAndGlyphs">20 Oct 14:00</text>
<text x="450.4" y="888" textLength="52.5" lengthAdjust="spacingAndGlyphs">20 Oct 22:00</text>
<text x="514.4" y="888" textLength="52.5" lengthAdjust="spacingAndGlyphs">21 Oct 06:00</text>
<text x="578.4" y="888" textLength="52.5" lengthAdjust="spacingAndGlyphs">21 Oct 14:00</text>
<text x="642.4" y="888" textLength="52.5" lengthAdjust="spacingAndGlyphs">21 Oct 22:00</text>
<text x="706.4" y="888" textLength="52.5" lengthAdjust="spacingAndGlyphs">22 Oct 06:00</text>
<text x="770.4" y="888" textLength="52.5" lengthAdjust="spacingAndGlyphs">22 Oct 14:00</text>
<text x="834.4" y="888" textLength="52.5" lengthAdjust="spacingAndGlyphs">22 Oct 22:00</text>
<text x="898.4" y="888" textLength="52.5" lengthAdjust="spacingAndGlyphs">23 Oct 06:00</text>
<text x="962.4" y="888" textLength="52.5" lengthAdjust="spacingAndGlyphs">23 Oct 14:00</text>
<text x="1026.4" y="888" textLength="52.5" lengthAdjust="spacingAndGlyphs">23 Oct 22:00</text>
<text x="1090.4" y="888" textLength="52.5" lengthAdjust="spacingAndGlyphs">26 Oct 06:00</text>
<text x="1154.4" y="888" textLength="52.5" lengthAdjust="spacingAndGlyphs">26 Oct 14:00</text>
<text x="1218.4" y="888" textLength="52.5" lengthAdjust="spacingAndGlyphs">26 Oct 22:00</text>
<text x="1282.4" y="888" textLength="52.5" lengthAdjust="spacingAndGlyphs">27 Oct 06:00</text>
<text x="1346.4" y="888" textLength="52.5" lengthAdjust="spacingAndGlyphs">27 Oct 14:00</text>
<text x="1410.4" y="888" textLength="52.5" lengthAdjust="spacingAndGlyphs">27 Oct 22:00</text>
<text x="1474.4" y="888" textLength="52.5" lengthAdjust="spacingAndGlyphs">28 Oct 06:00</text>
</g>
<path d="M6,9.5 L13,9.5 L9.5,13 Z" fill="#000"/>
<text x="18.5" y="14" font-family='"Liberation Sans", Arial, sans-serif' font-size="9.6" fill="#000" stroke="#000" xml:space="preserve" textLength="200" lengthAdjust="spacingAndGlyphs">EURUSD,H1  1.17769 1.17792 1.17745 1.17792</text>
<text x="7" y="752" font-family='"Liberation Sans", Arial, sans-serif' font-size="9.6" fill="#000" stroke="#000" textLength="67.5" lengthAdjust="spacingAndGlyphs">RSI(14) 32.5481</text>
<text x="788.3" y="34" font-family='"Liberation Sans", Arial, sans-serif' font-size="20" font-weight="bold" fill="#000" textLength="224.3" lengthAdjust="spacingAndGlyphs">EUR/USD Hourly Chart</text>
</svg>
</body></html>
